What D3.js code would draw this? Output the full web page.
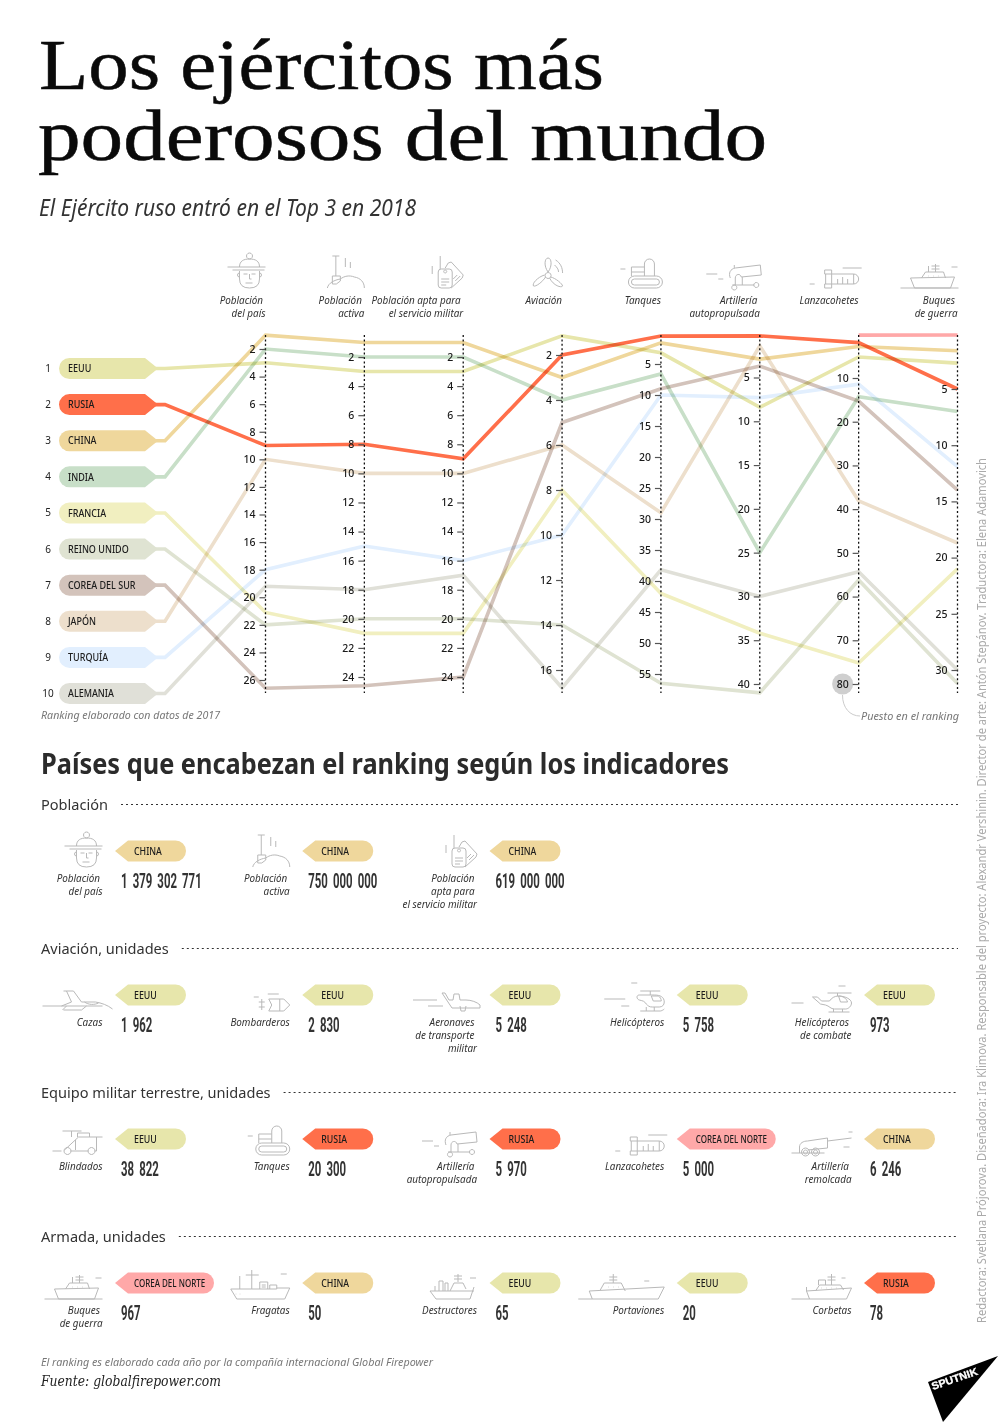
<!DOCTYPE html>
<html><head><meta charset="utf-8">
<script src="https://cdn.jsdelivr.net/npm/d3@7/dist/d3.min.js"></script>
<style>html,body{margin:0;padding:0;background:#fff}svg{display:block}</style>
</head><body><div id="c"></div>
<script>
// ---------- DATA ----------
const countries=["EEUU","RUSIA","CHINA","INDIA","FRANCIA","REINO UNIDO","COREA DEL SUR","JAPÓN","TURQUÍA","ALEMANIA"];
const countryColors=["#e7e6ab","#ff6f4a","#efd79c","#c8dfc8","#f1efc0","#dfe3d2","#d3c3bb","#eddfcc","#e2effe","#e0e0d8"];
const indicators=["Población|del país","Población|activa","Población apta para|el servicio militar","Aviación","Tanques","Artillería|autopropulsada","Lanzacohetes","Buques|de guerra"];
const tickValues=[
 [2,4,6,8,10,12,14,16,18,20,22,24,26],
 [2,4,6,8,10,12,14,16,18,20,22,24],
 [2,4,6,8,10,12,14,16,18,20,22,24],
 [2,4,6,8,10,12,14,16],
 [5,10,15,20,25,30,35,40,45,50,55],
 [5,10,15,20,25,30,35,40],
 [10,20,30,40,50,60,70,80],
 [5,10,15,20,25,30]];
const eeuu   =[3,3,3,1.15,3.2,8.4,5.2,2.7];
const rusia  =[9,8,9,2,0.5,0.25,1.9,5];
const china  =[1,1,1,3,1.6,2.9,2.8,1.6];
const india  =[2,2,2,4,6.6,25,14.3,7];
const francia=[21.1,21,21,8,42,34.2,75.2,21];
const reinoU =[22,20,20,14,56.5,41,56.2,31.2];
const coreaS =[26.6,24.6,24,5,9,3.7,15.3,14];
const japon  =[10,10,10,6,29,1.4,38.1,18.7];
const turquia=[18,15,16,10,10,7.3,11.4,11.9];
const alemania=[19.2,18,17,16.8,38.2,30,54.3,30];
const coreaN =[null,null,null,null,null,null,0.2,0.2];
const ranks=[eeuu,rusia,china,india,francia,reinoU,coreaS,japon,turquia,alemania];
const drawOrder=[9,8,7,6,5,4,0,3,2,1];

const sections=["Población","Aviación, unidades","Equipo militar terrestre, unidades","Armada, unidades"];
const cardLabels=[
 ["Población|del país","Población|activa","Población|apta para|el servicio militar"],
 ["Cazas","Bombarderos","Aeronaves|de transporte|militar","Helicópteros","Helicópteros|de combate"],
 ["Blindados","Tanques","Artillería|autopropulsada","Lanzacohetes","Artillería|remolcada"],
 ["Buques|de guerra","Fragatas","Destructores","Portaviones","Corbetas"]];
const cardWinners=[
 ["CHINA","CHINA","CHINA"],
 ["EEUU","EEUU","EEUU","EEUU","EEUU"],
 ["EEUU","RUSIA","RUSIA","COREA DEL NORTE","CHINA"],
 ["COREA DEL NORTE","CHINA","EEUU","EEUU","RUSIA"]];
const cardValues=[
 ["1 379 302 771","750 000 000","619 000 000"],
 ["1 962","2 830","5 248","5 758","973"],
 ["38 822","20 300","5 970","5 000","6 246"],
 ["967","50","65","20","78"]];
const cardIcons=[
 ["person","active","dogtag"],
 ["jet","bomb","transport","heli","attack"],
 ["armored","tank","cannon","rocket","towed"],
 ["warship","frigate","destroyer","carrier","corvette"]];
const headerIcons=["person","active","dogtag","prop","tank","cannon","rocket","warship"];
const credits="Redactora: Svetlana Prójorova. Diseñadora: Ira Klimova. Responsable del proyecto: Alexandr Vershinin. Director de arte: Antón Stepánov. Traductora: Elena Adamovich";

// ---------- ICON OUTLINES (origin = bottom right of the pictogram) ----------
const ICONS={
person:"M-38,-21H0M-33,-18H-1M-26,-21C-26,-27 -22,-29 -16,-29C-10,-29 -6,-27 -6,-21M-16,-29a3,3 0 1 1 .01,0M-26,-17V-9Q-26,0 -16,0Q-6,0 -6,-9V-17M-26,-15a2,2 0 1 0 0,4M-6,-15a2,2 0 1 1 0,4M-22,-14h4M-14,-14h4M-16,-14v5h2M-20,-5h7",
active:"M-32,-32h7M-28.5,-32V-12M-32,-12h8v5l-4,3h-4zM-19,-30v9M-14,-26v6M-37,0C-36,-5 -30,-8 -24,-9C-20,-12 -15,-13 -10,-11C-4,-10 0,-6 0,0",
dogtag:"M-23,-32V-19M-31,-22v8M-25,-16q0,-3 3,-3h8q3,0 3,3v13q0,3 -3,3h-8q-3,0 -3,-3zM-18,-18a1.5,1.5 0 1 0 .01,0M-22,-9h8M-22,-6h8M-22,-3h5M-18,-20l3,-5l3,-1l12,13l-1,3l-11,10M-6,-13l-4,4M-3,-12l-5,5",
prop:"M-15.5,-16C-20,-22 -19,-30 -15.5,-30C-12,-30 -11,-22 -15.5,-16M-18,-11C-21,-6 -28,-1 -30,-2C-32,-4 -26,-11 -19,-13M-13,-11C-8,-10 -1,-4 -1,-2C-2,0 -10,-2 -14,-10M-15.5,-15.5a3,3 0 1 0 .01,0M-8,-28C-3,-25 -1,-20 -1,-15M-9,-23C-7,-21 -5,-19 -5,-16",
tank:"M-34,-6a6,6 0 0 1 6,-6h22a6,6 0 0 1 6,6a6,6 0 0 1 -6,6h-22a6,6 0 0 1 -6,-6zM-31,-6a3,3 0 0 1 3,-3h22a3,3 0 0 1 0,6h-22a3,3 0 0 1 -3,-3zM-18,-12V-24a5,5 0 0 1 10,0V-12M-18,-21h-13v5h13M-31,-16v4M-42,-19h5",
cannon:"M-31,-10C-33,-15 -31,-19 -26,-20L-1,-23L0,-13L-20,-11C-21,-15 -26,-14 -26,-10M-26,-10V-3M-19,-11V-3M-27,-3a2.5,2.5 0 1 0 .01,0M-29,-3H-7M-5,-5.5a2.5,2.5 0 1 0 .01,0M-55,-14h11M-43,-9h5M-27,-20v-3",
rocket:"M-34,-18h7v4h-7zM-34,-4h7v4h-7zM-33,-14v10M-27,-14h22a5,5 0 0 1 5,5a5,5 0 0 1 -5,5h-22zM-21,-9v5M-16,-11v7M-11,-9v5M-5,-14v10M-16,-20h19M-49,-4h5",
warship:"M-58,0H0M-48,-10L-4,-11L-8,0M-48,-10L-44,0H-8M-37,-10L-33,-16H-15L-13,-10M-23,-24V-16M-27,-22h8M-27,-19h8M-30,-22v6M-7,-21h6M-30,-12h.5M-25,-12h.5M-20,-12h.5",
jet:"M-60,-5H0M-39,-20h10l8,11h14c6,1 12,3 17,7M-36,-20l5,11l-10,4M-36,-5l-4,4M-39,-1h18l5,-4M-18,-9c4,3 10,3 14,1",
bomb:"M-36,-14h5M-22,-17h11M-25,-9H-31M-25,-4H-31M-28,-12V-1M-21,-12h15l6,6l-6,6h-15l3,-6zM-10,-12V0",
transport:"M-64,-11h24M-49,-5h15M-35,-18h3l4,7h4l1,-6h5l1,6h6c5,0 11,2 14,5v3H-25zM-17,-5l1,5h4l1,-5",
heli:"M-60,-12h21M-43,-5h8M-33,-28h6M-24,-20H-4M-14,-20v4M-25,-16c-3,0 -3,4 0,5c4,1 5,1 7,4c2,2 3,3 6,3h7c3,0 5,-2 5,-5c0,-5 -4,-7 -10,-7zM-13,-15h7c2,1 3,3 3,5h-8zM-18,-4v4M-10,-4v4M-24,0H-4c1,0 3,-1 4,-2",
attack:"M-60,-8h12M-13,-25h7M-24,-18H0M-14,-18v3M-39,-14h5l4,4h8c2,-3 5,-5 9,-5c6,0 13,3 13,7c0,3 -3,6 -6,6h-11c-4,0 -5,-3 -9,-4l-5,-1zM-13,-15c4,0 8,2 9,6h-7zM-18,-2v3M-9,-2v3M-23,1H-2",
armored:"M-50,-4h9M-38,-5L-24,-18H0M-27,-15V-5M-6,-18V-4M-32,-4H-14M-8,-4H-6M-25,-18v-4H-13v4M-40,-24H-21M-31,-24v6M-35,-7.5a3.5,3.5 0 1 0 .01,0M-11,-7.5a3.5,3.5 0 1 0 .01,0",
towed:"M-60,-2H-27M-52,-2V-8C-52,-12 -48,-14 -44,-14L-24,-17V-7L-44,-5M-24,-14L0,-17M-3,-23h4M-8,-8h6M-46,-7a4,4 0 1 0 .01,0M-46,-5a2,2 0 1 0 .01,0M-36,-7a4,4 0 1 0 .01,0M-36,-5a2,2 0 1 0 .01,0",
frigate:"M-59,-10H-38M-59,-10L-53,0H-5L0,-11L-13,-11M-50,-10V-23M-38,-10V-29M-44,-24H-31M-38,-10H-13M-30,-10V-17H-22V-10M-20,-10V-14H-13V-10M-9,-25h6M-54,-5h.5M-50,-5h.5M-28,-14h4M-28,-12h4",
destroyer:"M-47,-8L-41,0H-7L-3,-12M-47,-8H-3M-42,-8V-13M-38,-8V-18H-34V-8M-32,-8V-16H-29V-8M-27,-8L-23,-16H-14L-11,-10M-19,-17V-25M-23,-23h8M-23,-20h8M-7,-21h6",
carrier:"M-86,0H-6M-75,-8L0,-12L-6,0M-75,-8L-72,0M-64,-9L-60,-16H-43L-39,-8M-51,-16V-25M-55,-22h8M-55,-19h8M-20,-18h5M-56,-12h.5M-51,-12h.5M-46,-12h.5",
corvette:"M-60,0H-5M-45,-8L-42,0M-45,-12V-8M-45,-8L0,-11L-5,0M-36,-8L-32,-14H-11L-8,-9M-33,-14V-19H-26V-14M-20,-14V-25M-24,-22h8M-24,-19h8M-10,-21h4M-30,-11h.5M-25,-11h.5M-20,-11h.5M-15,-11h.5"
};

// ---------- SETUP ----------
const W=998,H=1422;
const SANS="'Noto Sans',sans-serif";
const svg=d3.select("#c").append("svg").attr("width",W).attr("height",H).attr("viewBox",`0 0 ${W} ${H}`);
svg.append("rect").attr("width",W).attr("height",H).attr("fill","#fff");

function T(p,s,x,y,o={}){
  const t=p.append("text").text(s).attr("x",x).attr("y",y)
   .attr("font-family",o.fam||SANS).attr("font-size",o.size||10.5)
   .attr("fill",o.fill||"#222");
  if(o.weight)t.attr("font-weight",o.weight);
  if(o.italic)t.attr("font-style","italic");
  if(o.anchor)t.attr("text-anchor",o.anchor);
  if(o.ws)t.attr("word-spacing",o.ws);
  if(o.stroke)t.attr("stroke",o.fill||"#222").attr("stroke-width",o.stroke);
  if(o.w||o.k){
    const L=t.node().getComputedTextLength();
    t.attr("textLength",o.w||L*o.k).attr("lengthAdjust","spacingAndGlyphs");
  }
  return t;
}
function icon(p,name,x,y){
  p.append("path").attr("d",ICONS[name]).attr("transform",`translate(${x},${y})`)
   .attr("fill","none").attr("stroke","#b9b9b9").attr("stroke-width",1);
}
// tag with its point on the right (dir=1) or left (dir=-1)
function tagPath(x0,yc,w,h,dir){
  const r=h/2,t=13,p=d3.path();
  if(dir>0){
    p.moveTo(x0+r,yc-r);p.lineTo(x0+w-t,yc-r);p.lineTo(x0+w,yc);p.lineTo(x0+w-t,yc+r);p.lineTo(x0+r,yc+r);
    p.arc(x0+r,yc,r,Math.PI/2,Math.PI*1.5);
  }else{
    p.moveTo(x0,yc);p.lineTo(x0+t,yc-r);p.lineTo(x0+w-r,yc-r);
    p.arc(x0+w-r,yc,r,-Math.PI/2,Math.PI/2);
    p.lineTo(x0+t,yc+r);
  }
  p.closePath();return p.toString();
}

// ---------- TITLE ----------
T(svg,"Los ejércitos más",39,89,{fam:"'Liberation Serif',serif",size:72,fill:"#0a0a0a",w:565,stroke:.5});
T(svg,"poderosos del mundo",38,160,{fam:"'Liberation Serif',serif",size:72,fill:"#0a0a0a",w:729,stroke:.5});
T(svg,"El Ejército ruso entró en el Top 3 en 2018",39,216,{size:23,italic:true,fill:"#333",w:377});

// ---------- SLOPE CHART ----------
const xAxis=d3.scalePoint().domain(d3.range(8)).range([265.5,957.5]);
const yRanges=[[349,680],[357,677],[357,677],[355,670],[364,674],[377.5,684],[378,684],[389,670]];
const yScales=tickValues.map((tv,i)=>d3.scaleLinear().domain(d3.extent(tv)).range(yRanges[i]));
const legendY=d3.scalePoint().domain(d3.range(10)).range([368.5,693.5]);
const tagX=59,tagW=99,tagH=21;

const lineGen=d3.line().defined(d=>d.y!=null).x(d=>d.x).y(d=>d.y);
const linesG=svg.append("g").attr("fill","none").attr("stroke-width",3.6).attr("stroke-linejoin","miter");

// legend tags
const legG=svg.append("g");
countries.forEach((c,i)=>{
  legG.append("path").attr("d",tagPath(tagX,legendY(i),tagW,tagH,1)).attr("fill",countryColors[i]);
  T(legG,String(i+1),48,legendY(i)+3.5,{size:10,anchor:"middle",fill:"#222"});
  T(legG,c,68,legendY(i)+3.7,{size:10,weight:500,fill:"#1c1c1c",k:.9});
});
drawOrder.forEach(i=>{
  const pts=[{x:tagX+tagW-4,y:legendY(i)},{x:tagX+tagW+7,y:legendY(i)}]
    .concat(ranks[i].map((v,k)=>({x:xAxis(k),y:yScales[k](v)})));
  linesG.append("path").attr("d",lineGen(pts)).attr("stroke",countryColors[i]).style("mix-blend-mode","multiply");
});
linesG.append("path")
  .attr("d",lineGen(coreaN.map((v,k)=>({x:xAxis(k),y:v==null?null:yScales[k](v)}))))
  .attr("stroke","#ffa8a8");

// axes
svg.append("circle").attr("cx",xAxis(6)-16).attr("cy",yScales[6](80)).attr("r",10.5).attr("fill","#cfcfcf");
tickValues.forEach((tv,i)=>{
  const g=svg.append("g").attr("transform",`translate(${xAxis(i)},0)`);
  g.append("line").attr("y1",335).attr("y2",693).attr("stroke","#111").attr("stroke-width",1.3).attr("stroke-dasharray","2 2.4");
  const a=d3.axisLeft(yScales[i]).tickValues(tv).tickSize(6).tickPadding(4).tickFormat(d3.format("d"));
  const ag=g.append("g").call(a);
  ag.select(".domain").remove();
  ag.selectAll("line").attr("stroke","#555").attr("stroke-width",1.2).attr("x2",-6);
  ag.selectAll("text").attr("font-family",SANS).attr("font-size",10.5).attr("font-weight",500).attr("fill","#1a1a1a");
  ag.attr("font-family",null).attr("font-size",null);
});

// column headers
indicators.forEach((lab,i)=>{
  const r=xAxis(i);
  icon(svg,headerIcons[i],r+(i===3?1.5:i===4?1.5:i===5?1.5:i===7?1:0),288);
  lab.split("|").forEach((l,k)=>T(svg,l,r-(k===0&&lab.includes("|")?2.5:0),304+k*13,{size:10.5,italic:true,anchor:"end",fill:"#333",k:.94}));
});

T(svg,"Ranking elaborado con datos de 2017",41,719,{size:10,italic:true,fill:"#777",w:179});
T(svg,"Puesto en el ranking",959,719.5,{size:10,italic:true,fill:"#777",anchor:"end",w:98});
svg.append("path").attr("d","M842.5,695C842.5,708 850,716 860,716").attr("fill","none").attr("stroke","#ccc");

// ---------- LEADERS ----------
T(svg,"Países que encabezan el ranking según los indicadores",41,774,{size:29,weight:700,fill:"#2b2b2b",w:688});
const tagColor=n=>n==="COREA DEL NORTE"?"#ffa8a8":countryColors[countries.indexOf(n)];
const rowY=d3.scalePoint().domain(d3.range(4)).range([804,1236]);
const colStep=187.25;
sections.forEach((s,r)=>{
  const y0=rowY(r);
  const t=T(svg,s,41,y0+6,{size:15,fill:"#333",k:.97});
  const L=+t.attr("textLength");
  svg.append("line").attr("x1",41+L+13).attr("x2",958).attr("y1",y0+.5).attr("y2",y0+.5)
    .attr("stroke","#333").attr("stroke-width",1).attr("stroke-dasharray","2 3");
  cardLabels[r].forEach((lab,c)=>{
    const dx=colStep*c, right=102.5+dx;
    icon(svg,cardIcons[r][c],right,y0+63);
    const n=lab.split("|").length;
    lab.split("|").forEach((l,k)=>T(svg,l,right-(n>1&&k<n-1?2.5:0),y0+78+k*13.2,{size:10.5,italic:true,anchor:"end",fill:"#333",k:.94}));
    const win=cardWinners[r][c], tw=win==="COREA DEL NORTE"?99:71;
    svg.append("path").attr("d",tagPath(115+dx,y0+47,tw,21,-1)).attr("fill",tagColor(win));
    T(svg,win,134+dx,y0+50.5,{size:10,weight:500,fill:"#1c1c1c",k:win==="COREA DEL NORTE"?.8:.88});
    const num=svg.append("g").attr("transform",`translate(${121+dx},${y0+84}) scale(.57,1)`);
    T(num,cardValues[r][c],0,0,{fam:"Roboto,sans-serif",size:20,weight:700,fill:"#333",ws:4});
  });
});

// ---------- FOOT ----------
T(svg,"El ranking es elaborado cada año por la compañía internacional Global Firepower",41,1366,{size:10,italic:true,fill:"#777",w:392});
T(svg,"Fuente: globalfirepower.com",41,1386,{fam:"'DejaVu Serif',serif",size:14,italic:true,fill:"#222",w:180});
const cr=svg.append("g").attr("transform","translate(985.5,1323) rotate(-90)");
T(cr,credits,0,0,{size:12,fill:"#aaa",w:865});
svg.append("path").attr("d",d3.line()([[928,1382],[998,1356],[943,1422]])+"Z").attr("fill","#000");
const lg=svg.append("g").attr("transform","translate(933,1390) rotate(-19)");
T(lg,"SPUTNIK",0,0,{fam:"'Liberation Sans',sans-serif",size:10.5,weight:700,fill:"#fff",w:48,stroke:.3});
</script></body></html>
